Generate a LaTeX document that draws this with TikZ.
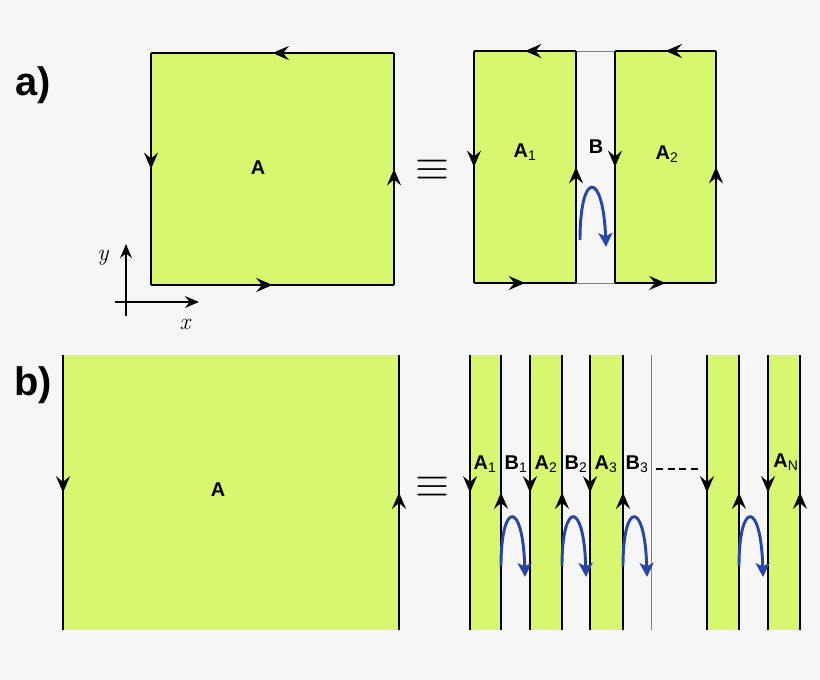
\documentclass[tikz,border=0pt]{standalone}
\usepackage{fontspec}
\setsansfont{Liberation Sans}
\usetikzlibrary{arrows.meta,decorations.markings}
\definecolor{lime}{RGB}{216,247,112}
\definecolor{loopblue}{RGB}{40,70,170}
\definecolor{bg}{RGB}{246,246,246}
\tikzset{
  tip/.style={-{Stealth[length=12pt,width=10pt,inset=4pt]}},
  mid arrow/.style={postaction={decorate},decoration={markings,
      mark=at position 0.5 with {\arrow{Stealth[length=14pt,width=12pt,inset=5pt]}}}},
  region/.style={fill=lime},
  edge/.style={black,line width=1.2pt},
  gap/.style={gray,line width=0.8pt},
  lbl/.style={font=\sffamily\bfseries\fontsize{17}{19}\selectfont},
  tag/.style={font=\sffamily\bfseries\fontsize{34}{36}\selectfont},
  eqv/.style={font=\fontsize{40}{40}\selectfont,scale=1.5},
  loop/.style={loopblue,line width=2.5pt,-{Stealth[length=12pt,width=12pt,inset=3pt]}}
}
\begin{document}
\begin{tikzpicture}[x=0.03cm,y=-0.03cm]
\fill[bg] (0,0) rectangle (820,680);
\useasboundingbox (0,0) rectangle (820,680);

% a) single region
\node[tag] (taga) at (33,85) {a)};
\fill[region] (151,53) rectangle (394,285);
\draw[edge,mid arrow] (394,53) -- (151,53);
\draw[edge,mid arrow] (151,53) -- (151,285);
\draw[edge,mid arrow] (151,285) -- (394,285);
\draw[edge,mid arrow] (394,285) -- (394,53);
\node[lbl] (Aa) at (258,168) {A};
\node[eqv] (eqa) at (432,170) {$\equiv$};

% axes
\draw[line width=1.2pt,tip] (126,316) -- (126,244);
\draw[line width=1.2pt,tip] (115,302) -- (199,302);
\node[font=\itshape\fontsize{20}{20}\selectfont] (ylab) at (103,258) {y};
\node[font=\itshape\fontsize{20}{20}\selectfont] (xlab) at (185,324) {x};

% a) split region
\fill[region] (474,51) rectangle (576,283);
\fill[region] (615,51) rectangle (716,283);
\draw[gap] (576,51) -- (615,51);
\draw[gap] (576,283) -- (615,283);
\draw[edge,mid arrow] (576,51) -- (474,51);
\draw[edge,mid arrow] (474,51) -- (474,283);
\draw[edge,mid arrow] (474,283) -- (576,283);
\draw[edge,mid arrow] (576,283) -- (576,51);
\draw[edge,mid arrow] (716,51) -- (615,51);
\draw[edge,mid arrow] (615,51) -- (615,283);
\draw[edge,mid arrow] (615,283) -- (716,283);
\draw[edge,mid arrow] (716,283) -- (716,51);
\node[lbl] (A1a) at (525,152) {A$_{\mathsf{1}}$};
\node[lbl] (Ba) at (596,147) {B};
\node[lbl] (A2a) at (667,154) {A$_{\mathsf{2}}$};
\draw[loop] (580,240) .. controls (580,170) and (603,170) .. (606,247);

% b) single region
\node[tag] (tagb) at (33,385) {b)};
\fill[region] (63,355) rectangle (399,630);
\draw[edge,mid arrow] (63,355) -- (63,630);
\draw[edge,mid arrow] (399,630) -- (399,355);
\node[lbl] (Ab) at (218,490) {A};
\node[eqv] (eqb) at (432,487) {$\equiv$};

% b) strips
\foreach \l/\r in {470/501,530/562,590/623,707/739,768/800}{
  \fill[region] (\l,355) rectangle (\r,630);
  \draw[edge,mid arrow] (\l,355) -- (\l,630);
  \draw[edge,mid arrow] (\r,630) -- (\r,355);
}
\draw[gap] (651,355) -- (651,630);
\foreach \s in {501,562,623,739}
  \draw[loop] (\s,566) .. controls (\s,500) and (\s+22,500) .. (\s+24,577);
\node[lbl] (A1b) at (485,464) {A$_{\mathsf{1}}$};
\node[lbl] (B1b) at (516,464) {B$_{\mathsf{1}}$};
\node[lbl] (A2b) at (546,464) {A$_{\mathsf{2}}$};
\node[lbl] (B2b) at (576,464) {B$_{\mathsf{2}}$};
\node[lbl] (A3b) at (606,464) {A$_{\mathsf{3}}$};
\node[lbl] (B3b) at (637,464) {B$_{\mathsf{3}}$};
\node[lbl] (ANb) at (786,462) {A$_{\mathsf{N}}$};
\draw[line width=2.5pt,dash pattern=on 6pt off 4pt] (656,469) -- (700,469);
\end{tikzpicture}
\end{document}
